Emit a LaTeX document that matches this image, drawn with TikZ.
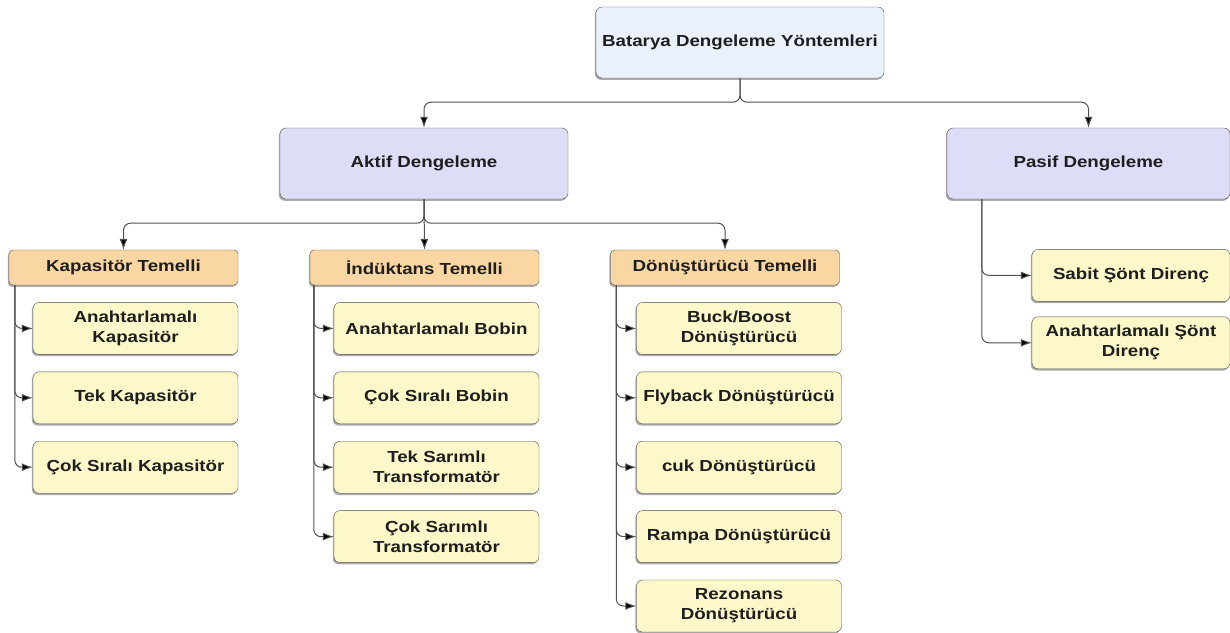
\documentclass[tikz,border=0pt]{standalone}
\usepackage{fontspec}
\setmainfont{Liberation Sans}[FakeStretch=1.17]
\usepackage{tikz}
\usetikzlibrary{calc,arrows.meta,positioning,shadows}
\definecolor{rootfill}{RGB}{234,241,251}
\definecolor{mainfill}{RGB}{221,221,248}
\definecolor{groupfill}{RGB}{250,214,162}
\definecolor{leaffill}{RGB}{252,248,202}
\definecolor{edgegray}{RGB}{80,80,80}
\definecolor{textdark}{RGB}{30,30,30}
\tikzset{
  block/.style={draw=edgegray, thin, rounded corners=6pt, align=center, inner sep=2pt,
    text=textdark, font=\fontsize{16}{20}\selectfont\bfseries,
    drop shadow={shadow xshift=-1.2pt, shadow yshift=-1.8pt, opacity=0.55, fill=black!60}},
  rootblock/.style={block, fill=rootfill, minimum width=288pt, minimum height=71pt},
  mainblock/.style={block, fill=mainfill, minimum height=71pt},
  groupblock/.style={block, fill=groupfill, rounded corners=4pt, minimum width=229pt, minimum height=35pt},
  leaf/.style={block, fill=leaffill, minimum width=205pt, minimum height=52pt},
  arr/.style={-{Latex[length=11pt,width=8pt,fill=black]}, draw=edgegray, line width=1pt, rounded corners=7pt}
}
\begin{document}
\begin{tikzpicture}[x=1pt, y=1pt]
  \useasboundingbox (0,0) rectangle (1230,-632);

  % ---- Root and the two main branches ----
  \node[rootblock] (root) at (740,-42.5) {Batarya Dengeleme Yöntemleri};
  \node[mainblock, minimum width=288pt] (aktif) at (424,-163.5) {Aktif Dengeleme};
  \node[mainblock, minimum width=283pt] (pasif) at (1088.5,-163.5) {Pasif Dengeleme};

  \draw[arr] (root.south) -- ++(0,-24) -| (aktif.north);
  \draw[arr] (root.south) -- ++(0,-24) -| (pasif.north);

  % ---- Active balancing groups ----
  \node[groupblock] (kap) at (123.5,-267.5) {Kapasitör Temelli};
  \node[groupblock] (ind) at (424.5,-267.5) {İndüktans Temelli};
  \node[groupblock] (don) at (725,-267.5) {Dönüştürücü Temelli};

  \draw[arr] (aktif.south) -- ++(0,-24) -| (kap.north);
  \draw[arr] (aktif.south) -- (ind.north);
  \draw[arr] (aktif.south) -- ++(0,-24) -| (don.north);

  % ---- Capacitor based ----
  \node[leaf, below left=17pt and 0pt of kap.south east] (kc1) {Anahtarlamalı\\Kapasitör};
  \node[leaf, below=17pt of kc1] (kc2) {Tek Kapasitör};
  \node[leaf, below=17pt of kc2] (kc3) {Çok Sıralı Kapasitör};

  \coordinate (kapspine) at ($(kap.south west)+(6,0)$);
  \foreach \c in {kc1,kc2,kc3}
    \draw[arr] (kapspine) |- (\c.west);

  % ---- Inductor based ----
  \node[leaf, below left=17pt and 0pt of ind.south east] (ic1) {Anahtarlamalı Bobin};
  \node[leaf, below=17pt of ic1] (ic2) {Çok Sıralı Bobin};
  \node[leaf, below=17pt of ic2] (ic3) {Tek Sarımlı\\Transformatör};
  \node[leaf, below=17pt of ic3] (ic4) {Çok Sarımlı\\Transformatör};

  \coordinate (indspine) at ($(ind.south west)+(4,0)$);
  \foreach \c in {ic1,ic2,ic3,ic4}
    \draw[arr] (indspine) |- (\c.west);

  % ---- Converter based ----
  \node[leaf, below left=17pt and -2pt of don.south east] (dc1) {Buck/Boost\\Dönüştürücü};
  \node[leaf, below=17pt of dc1] (dc2) {Flyback Dönüştürücü};
  \node[leaf, below=17pt of dc2] (dc3) {cuk Dönüştürücü};
  \node[leaf, below=17pt of dc3] (dc4) {Rampa Dönüştürücü};
  \node[leaf, below=17pt of dc4] (dc5) {Rezonans\\Dönüştürücü};

  \coordinate (donspine) at ($(don.south west)+(6,0)$);
  \foreach \c in {dc1,dc2,dc3,dc4,dc5}
    \draw[arr] (donspine) |- (\c.west);

  % ---- Passive balancing ----
  \node[leaf, minimum width=198pt, below right=50pt and 85pt of pasif.south west] (pc1) {Sabit Şönt Direnç};
  \node[leaf, minimum width=198pt, below=15pt of pc1] (pc2) {Anahtarlamalı Şönt\\Direnç};

  \coordinate (passpine) at ($(pasif.south west)+(35,0)$);
  \foreach \c in {pc1,pc2}
    \draw[arr] (passpine) |- (\c.west);

\end{tikzpicture}
\end{document}
